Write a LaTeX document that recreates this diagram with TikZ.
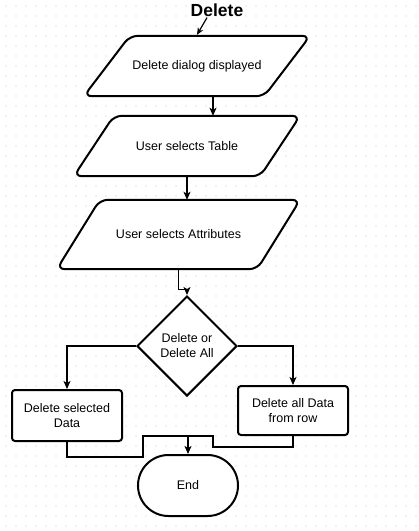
\documentclass[tikz,border=0pt]{standalone}
\usepackage{fontspec}
\setmainfont{Liberation Sans}
\usetikzlibrary{shapes.geometric,shapes.misc,arrows.meta,calc,backgrounds}
\newcommand{\parashape}[2]{%
  \begin{scope}[on background layer]
    \draw[line width=2pt,fill=white,rounded corners=8pt] (#1.south west) -- ($(#1.north west)+(#2,0)$) -- (#1.north east) -- ($(#1.south east)-(#2,0)$) -- cycle;
  \end{scope}}
\begin{document}
\begin{tikzpicture}[x=1pt,y=-1pt,
  txt/.style={font=\fontsize{12.5}{15}\selectfont,align=center,inner sep=0pt},
  shp/.style={txt,draw=black,line width=2pt,fill=white},
  para/.style={txt,rectangle},
  procbox/.style={shp,rectangle,rounded corners=3pt,minimum width=110pt},
  conn/.style={line width=1.2pt,draw=black},
  arr/.style={conn,-{Stealth[length=8pt,width=7pt,inset=2pt]}}
]
\useasboundingbox (0,0) rectangle (419,531);
\begin{scope}[on background layer]
\fill[white] (0,0) rectangle (419,531);
\foreach \i in {0,...,41}{\foreach \j in {0,...,52}{\fill[black!22] (6+10*\i,6+10*\j) circle (0.6pt);}}
\end{scope}

\node[font=\fontsize{17.5}{20}\bfseries\selectfont,inner sep=1pt] (t) at (217,10) {Delete};
\node[para,minimum width=226pt,minimum height=60pt] (p1) at (197,66) {Delete dialog displayed};
\parashape{p1}{46}
\node[para,minimum width=226pt,minimum height=60pt] (p2) at (187,146) {User selects Table};
\parashape{p2}{40}
\node[para,minimum width=243pt,minimum height=69pt] (p3) at (178.5,234.5) {User selects Attributes};
\parashape{p3}{43}
\node[shp,diamond,minimum width=100pt,minimum height=100pt,aspect=1] (d) at (187,346) {Delete or\\Delete All};
\node[procbox,minimum height=51pt] (b1) at (67,415.5) {Delete selected\\Data};
\node[procbox,minimum height=49pt] (b2) at (293,410.5) {Delete all Data\\from row};
\node[shp,rounded rectangle,minimum width=100pt,minimum height=61pt] (e) at (188,485.5) {End};

\coordinate (x1) at (213,0);
\coordinate (m) at (188,436);

\draw[conn,-{Stealth[length=7pt,width=6pt,inset=2pt]}] ($(t.south)+(-10,0)$) -- ($(p1.north)+(0,-1)$);
\draw[arr] (p1.south -| x1) -- (p2.north -| x1);
\draw[arr] (p2.south) -- (p2.south |- p3.north);
\draw[arr] (p3.south) -- ++(0,20) -| (d.north);
\draw[arr] (d.west) -| (b1.north);
\draw[arr] (d.east) -| (b2.north);
\draw[conn] (b1.south) -- ++(0,15) -| (143,436) -- (m);
\draw[conn] (b2.south) -- ++(0,11) -| (213,436) -- (m);
\draw[arr,line width=1.8pt] (m) -- (e.north);
\end{tikzpicture}
\end{document}
